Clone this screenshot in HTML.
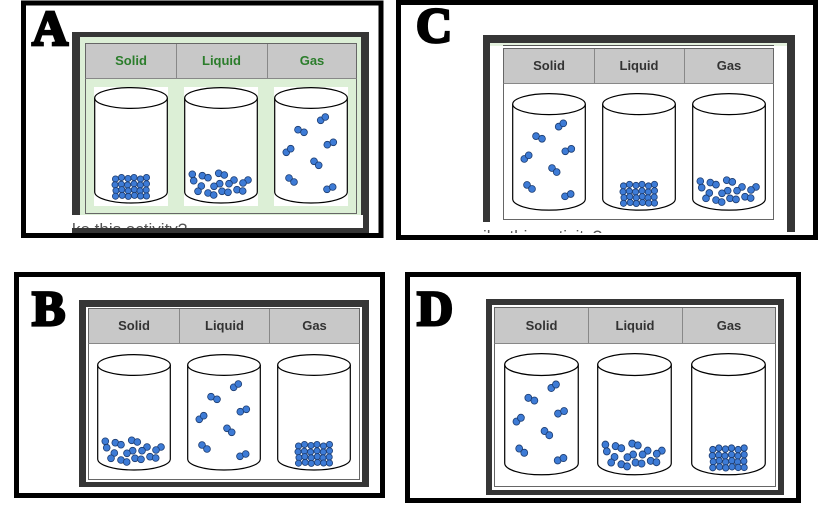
<!DOCTYPE html>
<html>
<head>
<meta charset="utf-8">
<style>
html,body{margin:0;padding:0;background:#fff;}
svg{display:block;}
.hd{font-family:"Liberation Sans",Arial,sans-serif;font-weight:bold;font-size:13px;text-anchor:middle;}
.lt{font-family:"Liberation Serif","DejaVu Serif",serif;font-weight:bold;font-size:50px;fill:#000;stroke:#000;stroke-width:2.8;}
.cut{font-family:"Liberation Sans",Arial,sans-serif;font-size:17px;fill:#555;}
</style>
</head>
<body>
<svg width="835" height="513" viewBox="0 0 835 513" xmlns="http://www.w3.org/2000/svg">
<defs>
  <g id="cyl">
    <path d="M0.7,11 L0.7,105 A36.3,11 0 0 0 73.3,105 L73.3,11" fill="#fff" stroke="#000" stroke-width="1.2"/>
    <ellipse cx="37" cy="11" rx="36.3" ry="10.4" fill="#fff" stroke="#000" stroke-width="1.2"/>
  </g>
  <g id="pS" fill="#3d7bd6" stroke="#1c3c70" stroke-width="0.8">
    <circle cx="21.5" cy="92" r="3.1"/><circle cx="27.5" cy="90.5" r="3.1"/><circle cx="34" cy="91.5" r="3.1"/><circle cx="40" cy="90.5" r="3.1"/><circle cx="46.5" cy="92" r="3.1"/><circle cx="52.5" cy="90.5" r="3.1"/>
    <circle cx="21" cy="97.8" r="3.1"/><circle cx="27.3" cy="97.2" r="3.1"/><circle cx="33.5" cy="98" r="3.1"/><circle cx="40" cy="96.8" r="3.1"/><circle cx="46.3" cy="98" r="3.1"/><circle cx="52.5" cy="96.8" r="3.1"/>
    <circle cx="22" cy="103.6" r="3.1"/><circle cx="27.8" cy="102.6" r="3.1"/><circle cx="34.2" cy="103.8" r="3.1"/><circle cx="40.3" cy="102.6" r="3.1"/><circle cx="46" cy="103.8" r="3.1"/><circle cx="52.2" cy="103" r="3.1"/>
    <circle cx="21.5" cy="109.2" r="3.1"/><circle cx="28.2" cy="108.4" r="3.1"/><circle cx="34.3" cy="109.4" r="3.1"/><circle cx="40.5" cy="108.4" r="3.1"/><circle cx="46.6" cy="109" r="3.1"/><circle cx="52.5" cy="109" r="3.1"/>
  </g>
  <g id="pL" fill="#3d7bd6" stroke="#1c3c70" stroke-width="0.8">
    <circle cx="8.3" cy="87.3" r="3.4"/><circle cx="9.7" cy="93.7" r="3.4"/><circle cx="18.3" cy="88.7" r="3.4"/><circle cx="24" cy="90.7" r="3.4"/>
    <circle cx="34.7" cy="86.3" r="3.4"/><circle cx="40.3" cy="88" r="3.4"/><circle cx="50" cy="93" r="3.4"/><circle cx="45" cy="96.7" r="3.4"/>
    <circle cx="35.7" cy="96.7" r="3.4"/><circle cx="30" cy="99.3" r="3.4"/><circle cx="64" cy="93" r="3.4"/><circle cx="59" cy="96" r="3.4"/>
    <circle cx="17.3" cy="99" r="3.4"/><circle cx="14" cy="104.3" r="3.4"/><circle cx="24" cy="106" r="3.4"/><circle cx="29.7" cy="108" r="3.4"/>
    <circle cx="38" cy="104.3" r="3.4"/><circle cx="44" cy="105.3" r="3.4"/><circle cx="53" cy="102.7" r="3.4"/><circle cx="58.7" cy="104" r="3.4"/>
  </g>
  <g id="pG" fill="#3d7bd6" stroke="#1c3c70" stroke-width="0.8">
    <circle cx="46.7" cy="33.3" r="3.4"/><circle cx="51.3" cy="30" r="3.4"/>
    <circle cx="24" cy="42.7" r="3.4"/><circle cx="30" cy="45.3" r="3.4"/>
    <circle cx="53.3" cy="57.7" r="3.4"/><circle cx="59.3" cy="55.3" r="3.4"/>
    <circle cx="12.3" cy="65.3" r="3.4"/><circle cx="16.7" cy="61.7" r="3.4"/>
    <circle cx="40" cy="74.3" r="3.4"/><circle cx="44.7" cy="78.3" r="3.4"/>
    <circle cx="15" cy="91" r="3.4"/><circle cx="20" cy="95" r="3.4"/>
    <circle cx="53" cy="102.3" r="3.4"/><circle cx="58.7" cy="100" r="3.4"/>
  </g>
  <clipPath id="clipA"><rect x="72" y="215" width="290" height="13"/></clipPath>
  <clipPath id="clipC"><rect x="483" y="226" width="300" height="7"/></clipPath>
</defs>

<!-- ================= PANEL A ================= -->
<rect x="23.5" y="3" width="357.5" height="232.5" fill="#fff" stroke="#000" stroke-width="5"/>
<text class="lt" x="32" y="45">A</text>
<rect x="72" y="32" width="297" height="201" fill="#363636"/>
<rect x="80" y="37" width="281" height="178" fill="#dcefd6"/>
<rect x="72" y="215" width="291" height="13" fill="#fff"/>
<text class="cut" x="72" y="235" clip-path="url(#clipA)">ke this activity?</text>
<rect x="85.5" y="43.5" width="271" height="170" fill="#dcefd6" stroke="#666" stroke-width="1"/>
<rect x="86" y="44" width="270" height="34" fill="#c8c8c8"/>
<line x1="85.5" y1="78.5" x2="356.5" y2="78.5" stroke="#888" stroke-width="1"/>
<line x1="176.5" y1="44" x2="176.5" y2="78" stroke="#888" stroke-width="1"/>
<line x1="267.5" y1="44" x2="267.5" y2="78" stroke="#888" stroke-width="1"/>
<text class="hd" x="131" y="65" fill="#2b7d2b">Solid</text>
<text class="hd" x="221.5" y="65" fill="#2b7d2b">Liquid</text>
<text class="hd" x="312" y="65" fill="#2b7d2b">Gas</text>
<rect x="94" y="87" width="74" height="119" fill="#fff"/>
<rect x="184" y="87" width="74" height="119" fill="#fff"/>
<rect x="274" y="87" width="74" height="119" fill="#fff"/>
<g transform="translate(94,87)"><use href="#cyl"/><use href="#pS"/></g>
<g transform="translate(184,87)"><use href="#cyl"/><use href="#pL"/></g>
<g transform="translate(274,87)"><use href="#cyl"/><use href="#pG"/></g>

<!-- ================= PANEL C ================= -->
<rect x="398.5" y="2.5" width="417" height="235" fill="#fff" stroke="#000" stroke-width="5"/>
<text class="lt" x="416" y="42">C</text>
<rect x="483" y="35" width="312" height="197" fill="#363636"/>
<rect x="490" y="43" width="297" height="179" fill="#fff"/>
<rect x="490" y="43" width="297" height="3" fill="#e4f1de"/>
<line x1="503" y1="45.5" x2="774" y2="45.5" stroke="#555" stroke-width="1"/>
<rect x="483" y="222" width="304" height="11" fill="#fff"/>
<text class="cut" x="483" y="242" clip-path="url(#clipC)">ike this activity?</text>
<rect x="503.5" y="48.5" width="270" height="171" fill="#fff" stroke="#666" stroke-width="1"/>
<rect x="504" y="49" width="269" height="34" fill="#c8c8c8"/>
<line x1="503.5" y1="83.5" x2="773.5" y2="83.5" stroke="#888" stroke-width="1"/>
<line x1="594.5" y1="49" x2="594.5" y2="83" stroke="#888" stroke-width="1"/>
<line x1="684.5" y1="49" x2="684.5" y2="83" stroke="#888" stroke-width="1"/>
<text class="hd" x="549" y="70" fill="#333">Solid</text>
<text class="hd" x="639" y="70" fill="#333">Liquid</text>
<text class="hd" x="729" y="70" fill="#333">Gas</text>
<g transform="translate(512,93) scale(1,1.01)"><use href="#cyl"/><use href="#pG"/></g>
<g transform="translate(602,93) scale(1,1.01)"><use href="#cyl"/><use href="#pS"/></g>
<g transform="translate(692,93) scale(1,1.01)"><use href="#cyl"/><use href="#pL"/></g>

<!-- ================= PANEL B ================= -->
<rect x="16.5" y="274.5" width="366" height="221" fill="#fff" stroke="#000" stroke-width="5"/>
<text class="lt" x="32" y="325">B</text>
<rect x="79" y="300" width="290" height="187" fill="#363636"/>
<rect x="86" y="307" width="276" height="175" fill="#fff"/>
<rect x="88.5" y="308.5" width="271" height="171" fill="#fff" stroke="#666" stroke-width="1"/>
<rect x="89" y="309" width="270" height="34" fill="#c8c8c8"/>
<line x1="88.5" y1="343.5" x2="359.5" y2="343.5" stroke="#888" stroke-width="1"/>
<line x1="179.5" y1="309" x2="179.5" y2="343" stroke="#888" stroke-width="1"/>
<line x1="269.5" y1="309" x2="269.5" y2="343" stroke="#888" stroke-width="1"/>
<text class="hd" x="134" y="330" fill="#333">Solid</text>
<text class="hd" x="224.5" y="330" fill="#333">Liquid</text>
<text class="hd" x="314.5" y="330" fill="#333">Gas</text>
<g transform="translate(97,354)"><use href="#cyl"/><use href="#pL"/></g>
<g transform="translate(187,354)"><use href="#cyl"/><use href="#pG"/></g>
<g transform="translate(277,354)"><use href="#cyl"/><use href="#pS"/></g>

<!-- ================= PANEL D ================= -->
<rect x="407.5" y="274.5" width="391" height="226" fill="#fff" stroke="#000" stroke-width="5"/>
<text class="lt" x="417" y="325">D</text>
<rect x="486" y="299" width="298" height="196" fill="#363636"/>
<rect x="492" y="305" width="286" height="185" fill="#fff"/>
<rect x="494.5" y="307.5" width="281" height="179" fill="#fff" stroke="#666" stroke-width="1"/>
<rect x="495" y="308" width="280" height="35" fill="#c8c8c8"/>
<line x1="494.5" y1="343.5" x2="775.5" y2="343.5" stroke="#888" stroke-width="1"/>
<line x1="588.5" y1="308" x2="588.5" y2="343" stroke="#888" stroke-width="1"/>
<line x1="682.5" y1="308" x2="682.5" y2="343" stroke="#888" stroke-width="1"/>
<text class="hd" x="541.5" y="330" fill="#333">Solid</text>
<text class="hd" x="635" y="330" fill="#333">Liquid</text>
<text class="hd" x="729" y="330" fill="#333">Gas</text>
<g transform="translate(504,353) scale(1.013,1.05)"><use href="#cyl"/><use href="#pG"/></g>
<g transform="translate(597,353) scale(1.013,1.05)"><use href="#cyl"/><use href="#pL"/></g>
<g transform="translate(691,353) scale(1.013,1.05)"><use href="#cyl"/><use href="#pS"/></g>
</svg>
</body>
</html>
